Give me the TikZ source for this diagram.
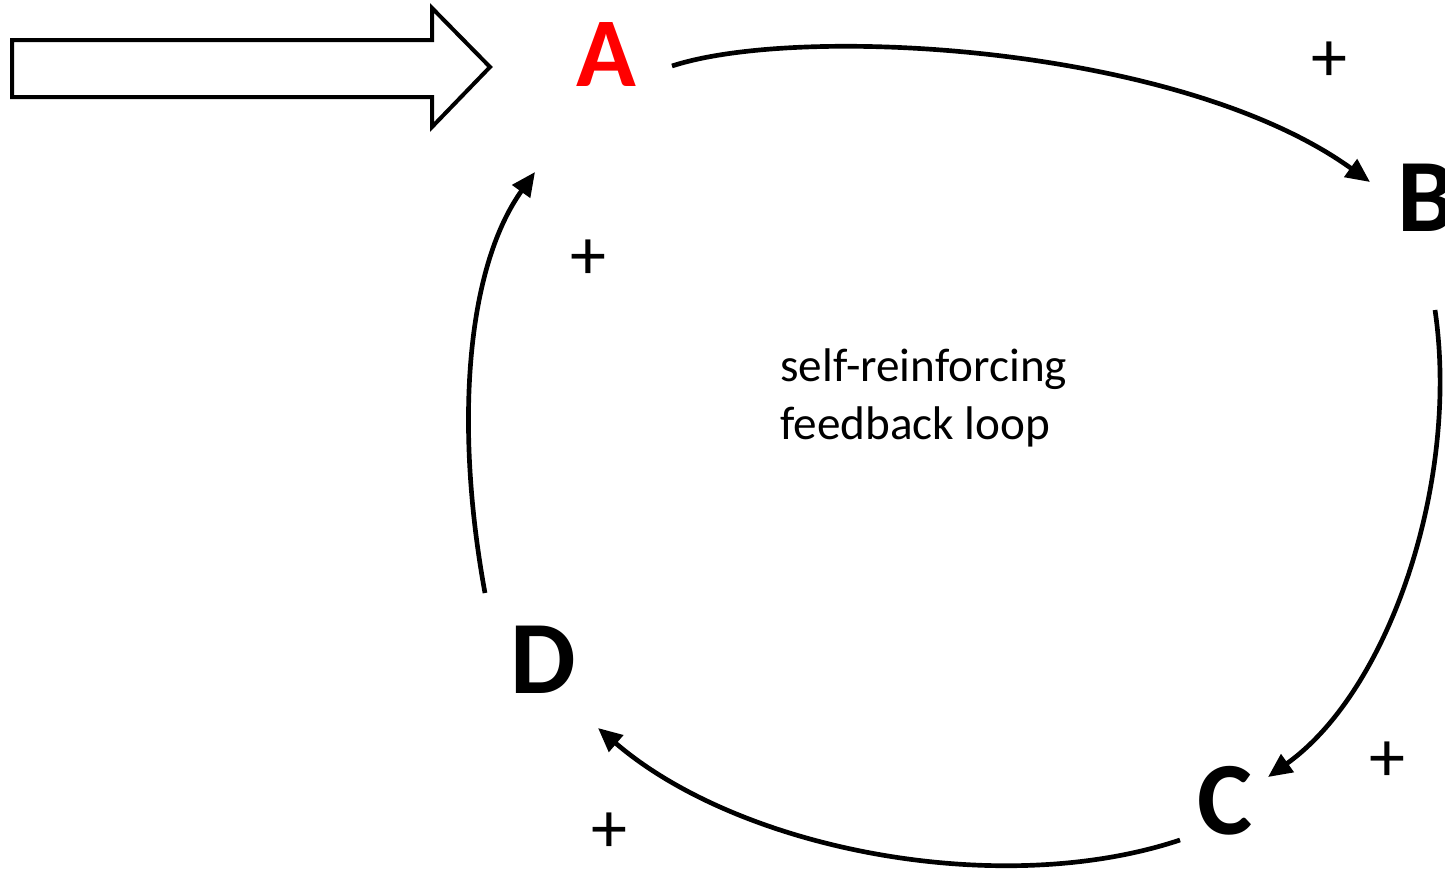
\documentclass[tikz,border=0pt]{standalone}
\usepackage{fontspec}
\setmainfont{Carlito}
\usetikzlibrary{arrows.meta}
\tikzset{
  letter/.style={inner sep=0pt, font=\fontsize{78}{80}\selectfont\bfseries},
  sign/.style={inner sep=0pt, font=\fontsize{54}{58}\selectfont},
  link/.style={line width=3.5pt, -{Triangle[length=18pt,width=16pt]}},
  bigarrow/.style={line width=3pt, draw=black, fill=white, miter limit=10}
}
\begin{document}
\begin{tikzpicture}[x=0.75pt,y=-0.75pt]
\useasboundingbox (0,0) rectangle (1445,868);
% block arrow
\draw[bigarrow] (12,40) -- (432,40) -- (432,8) -- (490,67) -- (432,127) -- (432,97) -- (12,97) -- cycle;
% letters
\node[letter, text=red, font=\fontsize{74}{78}\selectfont\bfseries] (A) at (606,55) {A};
\node[letter] (B) at (1427,198) {B};
\node[letter] (C) at (1225,801) {C};
\node[letter] (D) at (543,660) {D};
% plus signs
\node[sign] (pAB) at (1329,62) {+};
\node[sign] (pDA) at (588,260) {+};
\node[sign] (pBC) at (1387,762) {+};
\node[sign] (pCD) at (609,833) {+};
% center text
\node[inner sep=0pt, anchor=west, align=left, font=\fontsize{35.4}{43}\selectfont] (loop) at (780,398) {self-reinforcing\\feedback loop};
% connector ends
\coordinate (Aout) at (672,66);
\coordinate (Bin) at (1370,182);
\coordinate (Bout) at (1435,310);
\coordinate (Cin) at (1268,777);
\coordinate (Cout) at (1180,840);
\coordinate (Din) at (598,728);
\coordinate (Dout) at (485,593);
\coordinate (Ain) at (535,172);
\draw[link] (Aout) .. controls (800,24) and (1180,45) .. (Bin);
\draw[link] (Bout) .. controls (1460,480) and (1390,690) .. (Cin);
\draw[link] (Cout) .. controls (1000,900) and (740,850) .. (Din);
\draw[link] (Dout) .. controls (455,430) and (465,270) .. (Ain);
\end{tikzpicture}
\end{document}
